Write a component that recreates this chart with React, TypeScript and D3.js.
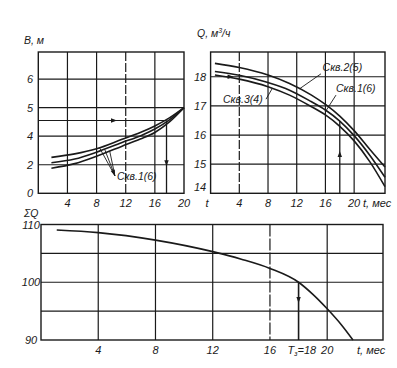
import React from "react";
import * as d3 from "d3";

const W = 397;
const H = 368;

// ---------- top-left panel: В, м vs t ----------
const tlT = [1.8, 5, 8, 11.5, 14, 16, 18, 20];
const tlB1 = [3.26, 3.38, 3.56, 3.89, 4.13, 4.36, 4.64, 5.0];
const tlB2 = [3.07, 3.2, 3.44, 3.78, 4.01, 4.25, 4.57, 5.0];
const tlB3 = [2.88, 3.04, 3.3, 3.65, 3.9, 4.13, 4.5, 5.0];
const tlXTicks = [4, 8, 12, 16, 20];
const tlXLabels = ["4", "8", "12", "16", "20"];
const tlYTicks = [2, 3, 4, 5, 6];
const tlYLabels = ["0", "2", "4", "5", "6"];
const tlGridX = [4, 8, 12, 16];
const tlGridY = [3, 4, 5, 6];
const tlLevelB = 4.55;
const tlLevelT = 17.6;

// ---------- top-right panel: Q, м³/ч vs t ----------
const trT = [0.6, 4, 8, 11, 14, 16, 18, 20, 22.2, 24.3];
const trQ2 = [18.46, 18.32, 18.06, 17.77, 17.38, 17.05, 16.65, 16.15, 15.5, 14.9]; // Скв.2(5)
const trQ1 = [18.18, 18.05, 17.8, 17.54, 17.15, 16.86, 16.48, 15.98, 15.3, 14.55]; // Скв.1(6)
const trQ3 = [18.06, 17.92, 17.66, 17.37, 16.98, 16.69, 16.3, 15.8, 15.08, 14.23]; // Скв.3(4)
const trXTicks = [4, 8, 12, 16, 20];
const trXLabels = ["4", "8", "12", "16", "20"];
const trYTicks = [14.1, 15, 16, 17, 18];
const trYLabels = ["14", "15", "16", "17", "18"];
const trGridX = [4, 8, 12, 16, 20];
const trGridY = [15, 16, 17, 18];
const trLevelT = 18;

// ---------- bottom panel: ΣQ vs t ----------
const bT = [1.1, 4, 8, 12, 14, 16, 18, 19, 20, 21, 21.8];
const bQ = [109.05, 108.6, 107.3, 105.3, 104.0, 102.4, 100, 97.9, 95.4, 92.6, 90];
const bXTicks = [4, 8, 12, 16, 20];
const bXLabels = ["4", "8", "12", "16", "20"];
const bYTicks = [90, 100, 110];
const bYLabels = ["90", "100", "110"];
const bGridX = [4, 8, 12, 16, 20];
const bGridY = [95, 100, 105];
const bTz = 18;

const FONT = "'Liberation Sans Narrow', 'Liberation Sans', Arial, sans-serif";
const INK = "#1a1a1a";

function arrowHead(x: number, y: number, angle: number, len = 6, half = 2.2) {
  const c = Math.cos(angle);
  const s = Math.sin(angle);
  const bx = x - c * len;
  const by = y - s * len;
  const p1 = [bx - s * half, by + c * half];
  const p2 = [bx + s * half, by - c * half];
  return `M${x},${y}L${p1[0]},${p1[1]}L${p2[0]},${p2[1]}Z`;
}

export default function App() {
  const tlX = d3.scaleLinear().domain([0, 20]).range([38.3, 184]);
  const tlY = d3.scaleLinear().domain([2, 6.95]).range([193.3, 52]);
  const trX = d3.scaleLinear().domain([0, 24.3]).range([210.6, 385]);
  const trY = d3.scaleLinear().domain([14, 18.85]).range([193.3, 52]);
  const bX = d3.scaleLinear().domain([0, 23.9]).range([41, 383]);
  const bY = d3.scaleLinear().domain([90, 110]).range([340, 224.5]);

  const mkLine = (xs: any, ys: any, T: number[]) =>
    (vals: number[]) =>
      d3
        .line<number>()
        .x((_, i) => xs(T[i]))
        .y((v) => ys(v))
        .curve(d3.curveMonotoneX)(vals) || "";

  const tlLine = mkLine(tlX, tlY, tlT);
  const trLine = mkLine(trX, trY, trT);
  const bLine = mkLine(bX, bY, bT);

  const interp = (T: number[], V: number[]) => d3.scaleLinear().domain(T).range(V);
  const tl1 = interp(tlT, tlB1);
  const tl2 = interp(tlT, tlB2);
  const tl3 = interp(tlT, tlB3);
  const tr2 = interp(trT, trQ2);
  const tr1 = interp(trT, trQ1);
  const tr3 = interp(trT, trQ3);

  const txt = {
    fontFamily: FONT,
    fontStyle: "italic" as const,
    fontSize: 11,
    fill: INK,
  };

  const tlLeadEnd = [tlX(10.52), tlY(2.61)];
  const tlLeads = [
    [tlX(8.4), tlY(tl1(8.4))],
    [tlX(9.1), tlY(tl2(9.1))],
    [tlX(9.8), tlY(tl3(9.8))],
  ];

  const gw = 1.2;

  return (
    <svg width={W} height={H} style={{ display: "block", position: "absolute", left: 0, top: 0, background: "#fff" }}>
      <rect x={0} y={0} width={W} height={H} fill="#fff" />

      {/* ===== TOP-LEFT ===== */}
      <g stroke={INK} fill="none">
        {tlGridX.map((t) => (
          <line key={"tlgx" + t} x1={tlX(t)} x2={tlX(t)} y1={tlY(6.95)} y2={tlY(2)} strokeWidth={gw}
            strokeDasharray={t === 12 ? "9,2" : undefined} />
        ))}
        {tlGridY.map((v) => (
          <line key={"tlgy" + v} x1={tlX(0)} x2={tlX(20)} y1={tlY(v)} y2={tlY(v)} strokeWidth={gw} />
        ))}
        <rect x={tlX(0)} y={tlY(6.95)} width={tlX(20) - tlX(0)} height={tlY(2) - tlY(6.95)} strokeWidth={1.4} />
        <line x1={tlX(0)} x2={tlX(tlLevelT)} y1={tlY(tlLevelB)} y2={tlY(tlLevelB)} strokeWidth={gw} />
        <line x1={tlX(tlLevelT)} x2={tlX(tlLevelT)} y1={tlY(tlLevelB)} y2={tlY(2)} strokeWidth={1.3} />
        {[tlB1, tlB2, tlB3].map((vals, i) => (
          <path key={"tlc" + i} d={tlLine(vals)} strokeWidth={1.6} />
        ))}
        {tlLeads.map((p, i) => (
          <line key={"tll" + i} x1={p[0]} y1={p[1]} x2={tlLeadEnd[0]} y2={tlLeadEnd[1]} strokeWidth={0.9} />
        ))}
      </g>
      <path d={arrowHead(tlX(10.8), tlY(tlLevelB), 0)} fill={INK} />
      <path d={arrowHead(tlX(tlLevelT), tlY(2.95), Math.PI / 2)} fill={INK} />
      <path d={arrowHead(tlLeadEnd[0], tlLeadEnd[1], Math.atan2(tlLeadEnd[1] - tlLeads[1][1], tlLeadEnd[0] - tlLeads[1][0]))} fill={INK} />
      <text x={tlX(10.8)} y={tlY(2.48)} {...txt} fontSize={10.5}>Скв.1(6)</text>
      <text x={24} y={44} {...txt} fontSize={10.5}>В, м</text>
      {tlYTicks.map((v, i) => (
        <text key={"tly" + v} x={30} y={tlY(v) + 4} textAnchor="middle" {...txt}>{tlYLabels[i]}</text>
      ))}
      {tlXTicks.map((t, i) => (
        <text key={"tlx" + t} x={tlX(t)} y={207} textAnchor="middle" {...txt}>{tlXLabels[i]}</text>
      ))}
      <text x={207} y={207} textAnchor="middle" {...txt}>t</text>

      {/* ===== TOP-RIGHT ===== */}
      <g stroke={INK} fill="none">
        {trGridX.map((t) => (
          <line key={"trgx" + t} x1={trX(t)} x2={trX(t)} y1={trY(18.85)} y2={trY(14)} strokeWidth={gw}
            strokeDasharray={t === 4 ? "9,2" : undefined} />
        ))}
        {trGridY.map((v) => (
          <line key={"trgy" + v} x1={trX(0)} x2={trX(24.3)} y1={trY(v)} y2={trY(v)} strokeWidth={gw} />
        ))}
        <rect x={trX(0)} y={trY(18.85)} width={trX(24.3) - trX(0)} height={trY(14) - trY(18.85)} strokeWidth={1.4} />
        <line x1={trX(trLevelT)} x2={trX(trLevelT)} y1={trY(tr1(trLevelT))} y2={trY(14)} strokeWidth={1.3} />
        {[trQ2, trQ1, trQ3].map((vals, i) => (
          <path key={"trc" + i} d={trLine(vals)} strokeWidth={1.6} />
        ))}
        <line x1={trX(15.37)} y1={trY(18.1)} x2={trX(12.4)} y2={trY(tr2(12.4))} strokeWidth={0.9} />
        <line x1={trX(17.47)} y1={trY(17.37)} x2={trX(16.1)} y2={trY(tr1(16.1))} strokeWidth={0.9} />
        <line x1={trX(7.72)} y1={trY(17.23)} x2={trX(8.6)} y2={trY(tr3(8.6))} strokeWidth={0.9} />
      </g>
      <path d={arrowHead(trX(3.2), trY(18), 0)} fill={INK} />
      <path d={arrowHead(trX(trLevelT), trY(15.45), -Math.PI / 2)} fill={INK} />
      <text x={trX(15.6)} y={trY(18.2)} {...txt} fontSize={10.5}>Скв.2(5)</text>
      <text x={trX(17.47)} y={trY(17.48)} {...txt} fontSize={10.5}>Скв.1(6)</text>
      <text x={trX(1.73)} y={trY(17.11)} {...txt} fontSize={10.5}>Скв.3(4)</text>
      <text x={197} y={37} {...txt} fontSize={10.5}>
        Q, м<tspan dy={-4} fontSize={7}>3</tspan><tspan dy={4}>/ч</tspan>
      </text>
      {trYTicks.map((v, i) => (
        <text key={"try" + v} x={200} y={trY(v) + (i === 0 ? 1 : 4)} textAnchor="middle" {...txt}>{trYLabels[i]}</text>
      ))}
      {trXTicks.map((t, i) => (
        <text key={"trx" + t} x={trX(t)} y={207} textAnchor="middle" {...txt}>{trXLabels[i]}</text>
      ))}
      <text x={363} y={207} {...txt}>t, мес</text>

      {/* ===== BOTTOM ===== */}
      <g stroke={INK} fill="none">
        {bGridX.map((t) => (
          <line key={"bgx" + t} x1={bX(t)} x2={bX(t)} y1={bY(110)} y2={bY(90)} strokeWidth={gw}
            strokeDasharray={t === 16 ? "12,2" : undefined} />
        ))}
        {bGridY.map((v) => (
          <line key={"bgy" + v} x1={bX(0)} x2={bX(23.9)} y1={bY(v)} y2={bY(v)} strokeWidth={gw} />
        ))}
        <rect x={bX(0)} y={bY(110)} width={bX(23.9) - bX(0)} height={bY(90) - bY(110)} strokeWidth={1.4} />
        <line x1={bX(bTz)} x2={bX(bTz)} y1={bY(100)} y2={bY(90)} strokeWidth={1.6} />
        <path d={bLine(bQ)} strokeWidth={1.6} />
      </g>
      <path d={arrowHead(bX(bTz), bY(96.4), Math.PI / 2)} fill={INK} />
      <text x={24} y={217} {...txt} fontSize={10.5}>ΣQ</text>
      {bYTicks.map((v, i) => (
        <text key={"by" + v} x={31} y={bY(v) + 4} textAnchor="middle" {...txt}>{bYLabels[i]}</text>
      ))}
      {bXTicks.map((t, i) => (
        <text key={"bx" + t} x={bX(t)} y={354} textAnchor="middle" {...txt}>{bXLabels[i]}</text>
      ))}
      <text x={bX(bTz) - 11} y={354} {...txt}>
        T<tspan dy={2} fontSize={7}>з</tspan><tspan dy={-2}>=18</tspan>
      </text>
      <text x={357} y={354} {...txt}>t, мес</text>
    </svg>
  );
}
